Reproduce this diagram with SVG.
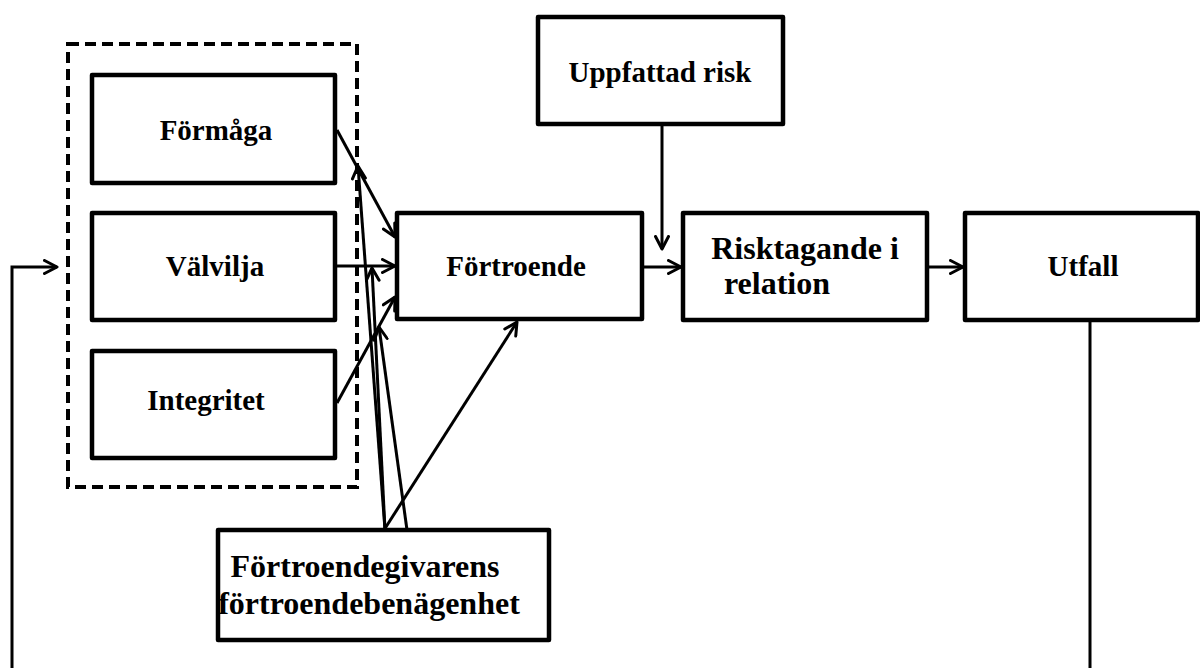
<svg xmlns="http://www.w3.org/2000/svg" width="1200" height="668" viewBox="0 0 1200 668">
<style>
.box{fill:#fff;stroke:#000;stroke-width:4.5;stroke-linejoin:round}
.dash{fill:none;stroke:#000;stroke-width:4;stroke-dasharray:11 6}
.t{font-family:"Liberation Serif","Times New Roman",serif;font-weight:bold;font-size:29px;fill:#000;text-anchor:middle}
.t2{font-size:32px}
.c{fill:none;stroke:#000;stroke-width:3}
.a{marker-end:url(#arr)}
</style>
<defs>
<marker id="arr" viewBox="0 0 16 16" refX="14.5" refY="8" markerWidth="16" markerHeight="16" markerUnits="userSpaceOnUse" orient="auto">
<path d="M2,1.5 L14.5,8 L2,14.5" fill="none" stroke="#000" stroke-width="3" stroke-linecap="round" stroke-linejoin="round"/>
</marker>
</defs>
<rect width="1200" height="668" fill="#fff"/>
<g id="group-dashed"><rect class="dash" x="68" y="44" width="289" height="443"/></g>
<g id="formaga"><rect class="box" x="92" y="75" width="243" height="108"/><text class="t" x="216" y="140">Förmåga</text></g>
<g id="valvilja"><rect class="box" x="92" y="213" width="243" height="107"/><text class="t" x="215" y="276">Välvilja</text></g>
<g id="integritet"><rect class="box" x="92" y="351" width="243" height="107"/><text class="t" x="206" y="410">Integritet</text></g>
<g id="fortroende"><rect class="box" x="397" y="213" width="245" height="106"/><text class="t" x="516" y="276">Förtroende</text></g>
<g id="risk"><rect class="box" x="538" y="17" width="245" height="107"/><text class="t" x="660" y="82">Uppfattad risk</text></g>
<g id="risktagande"><rect class="box" x="683" y="213" width="244" height="107"/><text class="t t2" x="805" y="259">Risktagande i</text><text class="t t2" x="777" y="294">relation</text></g>
<g id="utfall"><rect class="box" x="965" y="213" width="233" height="107"/><text class="t" x="1083" y="276">Utfall</text></g>
<g id="benagenhet"><rect class="box" x="218" y="530" width="331" height="110"/><text class="t t2" x="365" y="577">Förtroendegivarens</text><text class="t t2" x="369" y="614">förtroendebenägenhet</text></g>
<g id="connectors">
<path class="c a" d="M337,130 L395,237"/>
<path class="c a" d="M335,266 H395"/>
<path class="c a" d="M337,403 L395,297"/>
<path class="c a" d="M642,267 H681"/>
<path class="c a" d="M927,267 H963"/>
<path class="c a" d="M662,124 V249"/>
<path class="c a" d="M384,530 L517,322"/>
<path class="c a" d="M385,530 L358,166"/>
<path class="c a" d="M385,530 L372,268"/>
<path class="c a" d="M407,530 L379,327"/>
<path class="c" d="M1090,320 V668"/>
<path class="c a" d="M12,668 V267 H57"/>
</g>
</svg>
